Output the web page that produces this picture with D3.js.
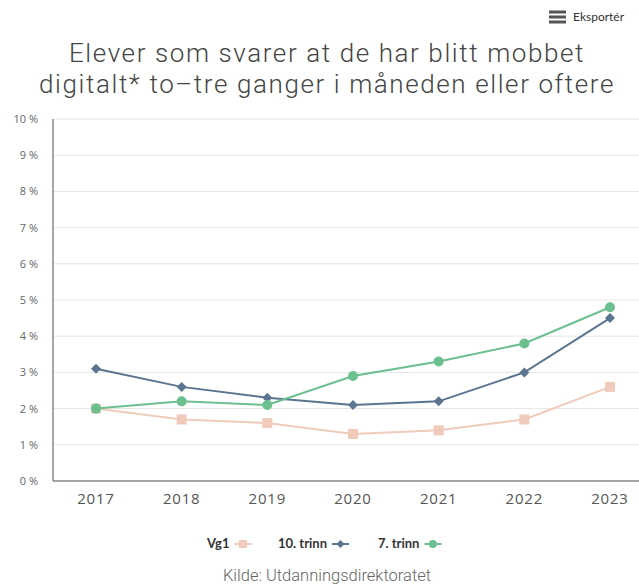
<!DOCTYPE html>
<html>
<head>
<meta charset="utf-8">
<script src="https://cdn.jsdelivr.net/npm/d3@7"></script>
<style>
body{margin:0;background:#fff;}
svg{display:block;}
</style>
</head>
<body>
<svg id="chart" width="639" height="586"></svg>
<script>
let years = ["2017","2018","2019","2020","2021","2022","2023"];
let vg1 = [2.0, 1.7, 1.6, 1.3, 1.4, 1.7, 2.6];
let trinn10 = [3.1, 2.6, 2.3, 2.1, 2.2, 3.0, 4.5];
let trinn7 = [2.0, 2.2, 2.1, 2.9, 3.3, 3.8, 4.8];
let yTicks = [0,1,2,3,4,5,6,7,8,9,10];

let svg = d3.select("#chart");
let font = "Lato, 'Open Sans', sans-serif";
let font2 = "'Open Sans', sans-serif";

// plot area (chart is cut at the right edge)
let plotLeft = 53, plotTop = 119, plotBottom = 481;
let x = d3.scalePoint().domain(years).range([96, 610]);
let y = d3.scaleLinear().domain([0,10]).range([plotBottom, plotTop]);

// export button
let ex = svg.append("g");
[12,17,22].forEach(v=>{
  ex.append("rect").attr("x",549).attr("y",v-1.5).attr("width",17).attr("height",3).attr("fill","#555");
});
ex.append("text").attr("x",573).attr("y",21).attr("font-family",font).attr("font-size",12).attr("fill","#333").text("Eksportér");

// title
let title = ["Elever som svarer at de har blitt mobbet","digitalt* to\u2013tre ganger i måneden eller oftere"];
svg.selectAll(".title").data(title).enter().append("text")
  .attr("x",327).attr("y",(d,i)=>62+i*31)
  .attr("text-anchor","middle").attr("font-family","Roboto, sans-serif").attr("font-weight",300)
  .attr("font-size",26).attr("letter-spacing",1.6)
  .attr("fill","#444").text(d=>d);

// grid
svg.selectAll(".grid").data(yTicks.filter(d=>d>0)).enter().append("line")
  .attr("x1",plotLeft).attr("x2",639).attr("y1",d=>y(d)).attr("y2",d=>y(d))
  .attr("stroke","#e6e6e6").attr("stroke-width",1);

// y labels
svg.selectAll(".ylab").data(yTicks).enter().append("text")
  .attr("x",38).attr("y",d=>y(d)+4).attr("text-anchor","end")
  .attr("font-family",font2).attr("font-size",11).attr("fill","#666")
  .text(d=>d+" %");

// axes lines
svg.append("line").attr("x1",plotLeft).attr("x2",plotLeft).attr("y1",plotTop).attr("y2",plotBottom)
  .attr("stroke","#888").attr("stroke-width",1.5);
svg.append("line").attr("x1",plotLeft).attr("x2",639).attr("y1",plotBottom).attr("y2",plotBottom)
  .attr("stroke","#888").attr("stroke-width",1.5);

// x labels
svg.selectAll(".xlab").data(years).enter().append("text")
  .attr("x",d=>x(d)).attr("y",504).attr("text-anchor","middle")
  .attr("font-family",font2).attr("font-size",15).attr("letter-spacing",0.8).attr("fill","#555").text(d=>d);

let series = [
  {name:"Vg1", values:vg1, color:"#f0cbbb", shape:"square"},
  {name:"10. trinn", values:trinn10, color:"#5b7590", shape:"diamond"},
  {name:"7. trinn", values:trinn7, color:"#6cbf8e", shape:"circle"}
];

let line = d3.line().x((d,i)=>x(years[i])).y(d=>y(d));

function marker(g, shape, color, cx, cy, r){
  if(shape=="square"){
    g.append("rect").attr("x",cx-r).attr("y",cy-r).attr("width",2*r).attr("height",2*r).attr("fill",color);
  } else if(shape=="diamond"){
    g.append("path").attr("d",`M${cx},${cy-r}L${cx+r},${cy}L${cx},${cy+r}L${cx-r},${cy}Z`).attr("fill",color);
  } else {
    g.append("circle").attr("cx",cx).attr("cy",cy).attr("r",r).attr("fill",color);
  }
}

series.forEach(s=>{
  let g = svg.append("g");
  g.append("path").attr("d",line(s.values)).attr("fill","none")
    .attr("stroke",s.color).attr("stroke-width",2);
  s.values.forEach((v,i)=>marker(g,s.shape,s.color,x(years[i]),y(v),5));
});

// legend
let legX = [207, 278, 378];
series.forEach((s,i)=>{
  let g = svg.append("g");
  let t = g.append("text").attr("x",legX[i]).attr("y",548).attr("font-family",font)
    .attr("font-size",13).attr("font-weight","bold").attr("fill","#333").text(s.name);
  let w = t.node().getComputedTextLength();
  let lx = legX[i]+w+5;
  g.append("line").attr("x1",lx).attr("x2",lx+17).attr("y1",544).attr("y2",544)
    .attr("stroke",s.color).attr("stroke-width",2);
  marker(g,s.shape,s.color,lx+8.5,544,4);
});

// source
svg.append("text").attr("x",327).attr("y",581).attr("text-anchor","middle")
  .attr("font-family","Roboto, sans-serif").attr("font-weight",300).attr("font-size",16.5).attr("fill","#666").text("Kilde: Utdanningsdirektoratet");
</script>
</body>
</html>
